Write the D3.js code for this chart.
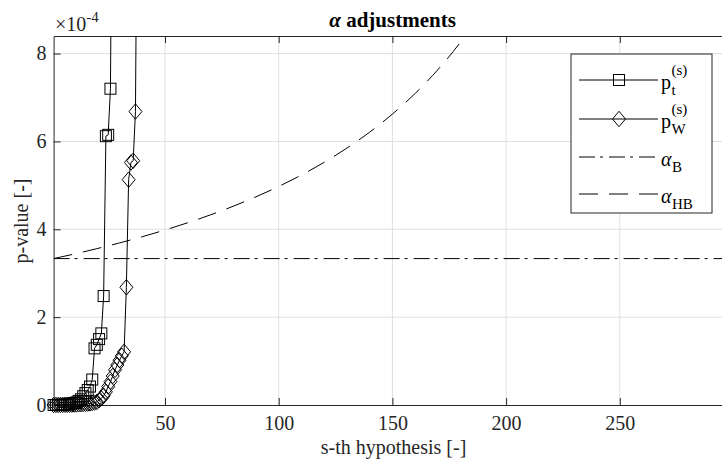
<!DOCTYPE html>
<html><head><meta charset="utf-8">
<script src="https://cdn.jsdelivr.net/npm/d3@7"></script>
<style>
body{margin:0;background:#fff}
svg text{font-family:"Liberation Serif","DejaVu Serif",serif !important;fill:#262626}
</style>
</head><body>
<svg id="c" width="722" height="461" style="font-family:'Liberation Serif',serif"></svg>
<script>
// ---- data ----
const xTicks = [50, 100, 150, 200, 250];
const yTicks = [0, 2, 4, 6, 8];
// p_t^(s) for s = 1,2,3,... (x1e-4)
const pT = [0.000, 0.001, 0.002, 0.004, 0.006, 0.010, 0.015, 0.020, 0.030, 0.045,
            0.060, 0.090, 0.130, 0.200, 0.270, 0.340, 0.420, 0.580, 1.290, 1.370,
            1.500, 1.630, 2.480, 6.120, 6.150, 7.200, 14.00];
// p_W^(s) for s = 1,2,3,... (x1e-4)
const pW = [0.000, 0.0005, 0.001, 0.002, 0.003, 0.004, 0.005, 0.006, 0.008, 0.010,
            0.012, 0.015, 0.018, 0.022, 0.026, 0.030, 0.036, 0.045, 0.055, 0.070,
            0.110, 0.150, 0.210, 0.300, 0.420, 0.530, 0.660, 0.800, 0.910, 1.020,
            1.120, 1.210, 2.680, 5.130, 5.520, 5.560, 6.680, 14.00];
// Bonferroni threshold (x1e-4)
const sB = [1, 300];
const aB = [3.333, 3.333];
// Holm-Bonferroni threshold (x1e-4)
const sHB = [1, 10, 20, 30, 40, 50, 60, 70, 80, 90, 100, 110, 120, 130, 140, 150, 160, 170, 180, 190];
const aHB = [3.333, 3.436, 3.559, 3.690, 3.831, 3.984, 4.149, 4.329, 4.525, 4.739,
             4.975, 5.236, 5.525, 5.848, 6.211, 6.623, 7.092, 7.634, 8.264, 9.009];

// ---- layout ----
const FONT = '"Liberation Serif","DejaVu Serif",serif';
const svg = d3.select('#c');
const L = 53.6, R = 733.5, T = 36, B = 405;
const x = d3.scaleLinear().domain([1, 300]).range([L, R]);
const y = d3.scaleLinear().domain([0, 8.4]).range([B, T]);
const axisCol = '#262626';

svg.append('rect').attr('width', 722).attr('height', 461).attr('fill', '#fff');

svg.append('defs').append('clipPath').attr('id', 'clip')
  .append('rect').attr('x', L).attr('y', T).attr('width', R - L).attr('height', B - T + 2);

// grid
const grid = svg.append('g');
grid.selectAll('.gx').data(xTicks).enter().append('line')
  .attr('x1', d => x(d)).attr('x2', d => x(d)).attr('y1', T).attr('y2', B)
  .attr('stroke', '#dfdfdf').attr('stroke-width', 1);
grid.selectAll('.gy').data(yTicks.filter(d => d > 0)).enter().append('line')
  .attr('y1', d => y(d)).attr('y2', d => y(d)).attr('x1', L).attr('x2', R)
  .attr('stroke', '#dfdfdf').attr('stroke-width', 1);

// axes
function styleAxis(g) {
  g.attr('font-family', FONT);
  g.select('.domain').attr('stroke', axisCol).attr('stroke-width', 1);
  g.selectAll('.tick line').attr('stroke', axisCol).attr('stroke-width', 1);
  g.selectAll('.tick text').style('font-family', FONT)
    .attr('font-size', 20).attr('fill', axisCol);
}
svg.append('g').attr('transform', `translate(0,${B})`)
  .call(d3.axisBottom(x).tickValues(xTicks).tickSizeInner(-7).tickSizeOuter(0).tickPadding(11))
  .call(styleAxis);
svg.append('g').attr('transform', `translate(0,${T})`)
  .call(d3.axisTop(x).tickValues(xTicks).tickSizeInner(-7).tickSizeOuter(0).tickFormat(''))
  .call(styleAxis);
svg.append('g').attr('transform', `translate(${L},0)`)
  .call(d3.axisLeft(y).tickValues(yTicks).tickSizeInner(-7).tickSizeOuter(0).tickPadding(7))
  .call(styleAxis);
svg.append('g').attr('transform', `translate(${R},0)`)
  .call(d3.axisRight(y).tickValues(yTicks).tickSizeInner(-7).tickSizeOuter(0).tickFormat(''))
  .call(styleAxis);

// series
const plot = svg.append('g');
const lineClip = plot.append('g').attr('clip-path', 'url(#clip)');
const line = d3.line().x(d => x(d[0])).y(d => y(d[1]));
const hbLine = d3.line().x(d => x(d[0])).y(d => y(d[1])).curve(d3.curveMonotoneX);

const ptData = pT.map((v, i) => [i + 1, v]);
const pwData = pW.map((v, i) => [i + 1, v]);

lineClip.append('path').datum(sB.map((s, i) => [s, aB[i]])).attr('d', line)
  .attr('fill', 'none').attr('stroke', '#000').attr('stroke-width', 1)
  .attr('stroke-dasharray', '16 5 3 6');
lineClip.append('path').datum(sHB.map((s, i) => [s, aHB[i]])).attr('d', hbLine)
  .attr('fill', 'none').attr('stroke', '#000').attr('stroke-width', 1)
  .attr('stroke-dasharray', '19 11');
lineClip.append('path').datum(ptData).attr('d', line)
  .attr('fill', 'none').attr('stroke', '#000').attr('stroke-width', 1);
lineClip.append('path').datum(pwData).attr('d', line)
  .attr('fill', 'none').attr('stroke', '#000').attr('stroke-width', 1);

const sq = 11, dw = 6.5, dh = 7.7;
const diamond = `M0,${-dh}L${dw},0L0,${dh}L${-dw},0Z`;
plot.selectAll('.mt').data(ptData.filter(d => d[1] <= 8.4)).enter().append('rect')
  .attr('x', d => x(d[0]) - sq / 2).attr('y', d => y(d[1]) - sq / 2)
  .attr('width', sq).attr('height', sq)
  .attr('fill', 'none').attr('stroke', '#000').attr('stroke-width', 1);
plot.selectAll('.mw').data(pwData.filter(d => d[1] <= 8.4)).enter().append('path')
  .attr('transform', d => `translate(${x(d[0])},${y(d[1])})`).attr('d', diamond)
  .attr('fill', 'none').attr('stroke', '#000').attr('stroke-width', 1);

// texts
function txt(sel) { return sel.style('font-family', FONT); }
txt(svg.append('text')).attr('x', (L + R) / 2 - 1).attr('y', 27).attr('text-anchor', 'middle')
  .attr('font-size', 21).attr('font-weight', 'bold').style('fill', '#000')
  .html('<tspan font-style="italic">α</tspan> adjustments');
const ex = txt(svg.append('text')).attr('x', 55).attr('y', 31).attr('font-size', 20);
ex.append('tspan').text('×10');
ex.append('tspan').attr('dy', -9).attr('font-size', 15).text('-4');

txt(svg.append('text')).attr('x', (L + R) / 2).attr('y', 454).attr('text-anchor', 'middle')
  .attr('font-size', 20).text('s-th hypothesis [-]');
txt(svg.append('text')).attr('transform', 'translate(28,221) rotate(-90)').attr('text-anchor', 'middle')
  .attr('font-size', 20).text('p-value [-]');

// legend
const lg = svg.append('g');
lg.append('rect').attr('x', 571).attr('y', 54).attr('width', 141).attr('height', 159)
  .attr('fill', '#fff').attr('stroke', axisCol).attr('stroke-width', 1);
const rows = [
  {y: 80, dash: null, marker: 'sq', sub: 't', sup: '(s)', base: 'p'},
  {y: 119, dash: null, marker: 'di', sub: 'W', sup: '(s)', base: 'p'},
  {y: 157, dash: '16 5 3 6', marker: null, sub: 'B', sup: null, base: 'α'},
  {y: 194, dash: '19 11', marker: null, sub: 'HB', sup: null, base: 'α'}
];
rows.forEach(r => {
  const ln = lg.append('line').attr('x1', 579).attr('x2', 658).attr('y1', r.y).attr('y2', r.y)
    .attr('stroke', '#000').attr('stroke-width', 1);
  if (r.dash) ln.attr('stroke-dasharray', r.dash);
  if (r.marker === 'sq') lg.append('rect').attr('x', 619 - sq / 2).attr('y', r.y - sq / 2)
    .attr('width', sq).attr('height', sq).attr('fill', 'none').attr('stroke', '#000');
  if (r.marker === 'di') lg.append('path').attr('transform', `translate(619,${r.y})`)
    .attr('d', diamond).attr('fill', 'none').attr('stroke', '#000');
  const bx = 661, by = r.y + 9;
  txt(lg.append('text')).attr('x', bx).attr('y', by).attr('font-size', 20)
    .attr('font-style', r.base === 'α' ? 'italic' : 'normal').style('fill', '#000').text(r.base);
  const w = r.base === 'p' ? 10.5 : 11;
  if (r.sup) txt(lg.append('text')).attr('x', bx + w).attr('y', by - 14).attr('font-size', 15)
    .style('fill', '#000').text(r.sup);
  txt(lg.append('text')).attr('x', bx + w).attr('y', by + 6).attr('font-size', 15)
    .style('fill', '#000').text(r.sub);
});
</script>
</body></html>
